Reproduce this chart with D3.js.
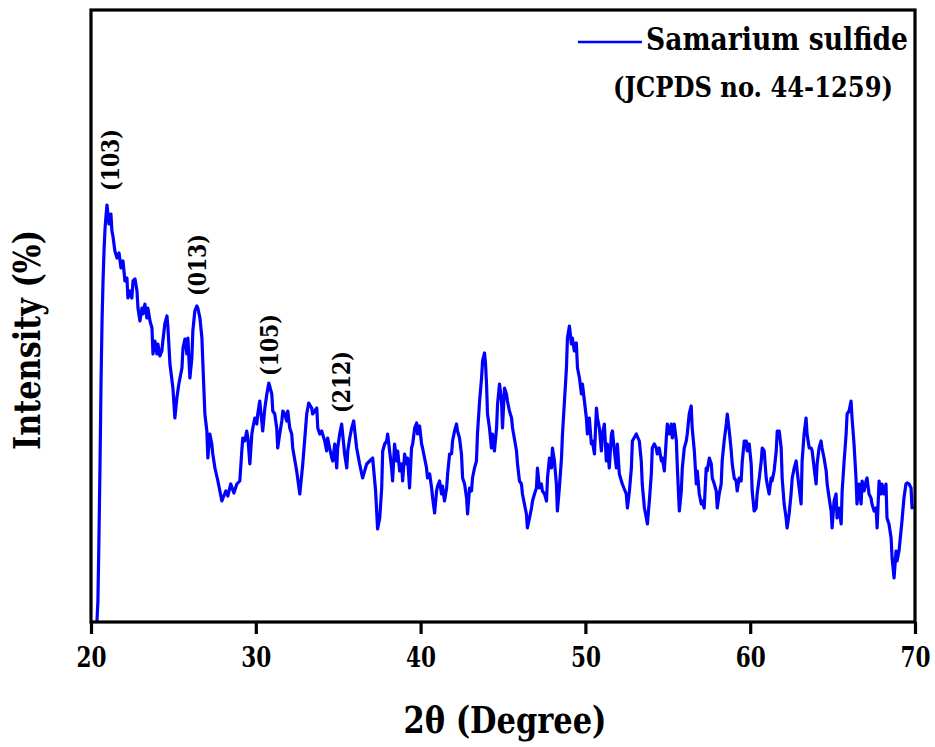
<!DOCTYPE html>
<html>
<head>
<meta charset="utf-8">
<script src="https://cdn.jsdelivr.net/npm/d3@7"></script>
<style>
  html, body { margin: 0; padding: 0; background: #fff; }
</style>
</head>
<body>
<svg id="chart" width="935" height="747"></svg>
<script>
// XRD pattern: [2theta (deg), intensity (a.u.)]
const xrdPattern = [
  [20.36, 0], [20.42, 21], [20.48, 81], [20.55, 161], [20.61, 241], [20.67, 301], [20.73, 341],
  [20.79, 371], [20.85, 393], [20.91, 406], [20.97, 417], [21.09, 398], [21.21, 408], [21.27, 391],
  [21.33, 386], [21.45, 371], [21.58, 364], [21.70, 369], [21.82, 354], [21.94, 361], [22.06, 341],
  [22.18, 344], [22.24, 324], [22.36, 331], [22.48, 324], [22.55, 341], [22.67, 343], [22.79, 331],
  [22.85, 314], [22.97, 301], [23.09, 314], [23.15, 308], [23.27, 318], [23.39, 304], [23.45, 314],
  [23.58, 301], [23.70, 294], [23.76, 268], [23.88, 281], [24.00, 268], [24.06, 278], [24.18, 266],
  [24.30, 271], [24.36, 281], [24.48, 298], [24.61, 306], [24.67, 294], [24.79, 258], [24.97, 234],
  [25.09, 204], [25.21, 224], [25.33, 238], [25.52, 254], [25.58, 274], [25.70, 283], [25.82, 268],
  [25.88, 284], [26.00, 244], [26.12, 264], [26.18, 291], [26.30, 311], [26.42, 316], [26.48, 314],
  [26.61, 304], [26.73, 284], [26.79, 258], [26.91, 208], [27.03, 191], [27.09, 164], [27.21, 188],
  [27.33, 178], [27.39, 168], [27.52, 154], [27.70, 141], [27.94, 121], [28.18, 131], [28.30, 126],
  [28.48, 138], [28.67, 129], [28.85, 138], [29.03, 141], [29.15, 171], [29.21, 184], [29.33, 181],
  [29.45, 191], [29.52, 184], [29.64, 158], [29.76, 188], [29.82, 194], [29.94, 204], [30.06, 198],
  [30.12, 208], [30.24, 221], [30.36, 201], [30.42, 191], [30.55, 214], [30.67, 228], [30.79, 239],
  [30.97, 228], [31.03, 211], [31.15, 208], [31.27, 194], [31.33, 174], [31.45, 188], [31.58, 201],
  [31.64, 211], [31.76, 208], [31.88, 201], [31.94, 211], [32.06, 194], [32.18, 188], [32.24, 174],
  [32.48, 151], [32.67, 128], [32.85, 158], [33.09, 208], [33.21, 219], [33.39, 214], [33.45, 208],
  [33.70, 214], [33.76, 194], [33.88, 188], [34.00, 191], [34.18, 181], [34.30, 171], [34.36, 184],
  [34.48, 174], [34.61, 164], [34.67, 161], [34.79, 178], [34.91, 154], [34.97, 174], [35.09, 188],
  [35.21, 198], [35.27, 188], [35.39, 168], [35.52, 154], [35.58, 171], [35.70, 184], [35.82, 194],
  [35.94, 201], [36.12, 174], [36.30, 158], [36.48, 144], [36.73, 158], [36.91, 161], [37.09, 164],
  [37.27, 131], [37.39, 93], [37.52, 104], [37.64, 134], [37.70, 171], [37.82, 178], [37.94, 181],
  [38.00, 188], [38.12, 171], [38.24, 154], [38.30, 141], [38.42, 178], [38.55, 161], [38.61, 171],
  [38.73, 151], [38.85, 158], [38.91, 141], [39.03, 168], [39.15, 158], [39.21, 164], [39.33, 134],
  [39.45, 174], [39.52, 178], [39.64, 194], [39.76, 199], [39.82, 188], [39.94, 196], [40.06, 178],
  [40.12, 174], [40.24, 164], [40.36, 154], [40.42, 144], [40.55, 148], [40.67, 134], [40.73, 124],
  [40.85, 109], [40.97, 131], [41.03, 136], [41.15, 141], [41.27, 128], [41.33, 136], [41.45, 121],
  [41.58, 134], [41.64, 148], [41.76, 168], [41.88, 168], [41.94, 181], [42.06, 191], [42.18, 198],
  [42.24, 191], [42.36, 184], [42.48, 168], [42.55, 144], [42.67, 138], [42.79, 124], [42.85, 108],
  [42.97, 134], [43.09, 131], [43.15, 144], [43.27, 154], [43.39, 161], [43.45, 188], [43.58, 221],
  [43.70, 244], [43.76, 261], [43.88, 269], [43.94, 258], [44.00, 238], [44.06, 208], [44.18, 194],
  [44.30, 174], [44.36, 188], [44.48, 171], [44.61, 194], [44.67, 218], [44.79, 238], [44.91, 221],
  [44.97, 194], [45.09, 234], [45.21, 228], [45.27, 221], [45.39, 211], [45.52, 204], [45.58, 194],
  [45.82, 171], [45.88, 158], [46.00, 141], [46.12, 138], [46.18, 128], [46.42, 108], [46.48, 94],
  [46.61, 104], [46.73, 114], [46.79, 121], [46.91, 128], [47.03, 134], [47.09, 154], [47.21, 134],
  [47.33, 138], [47.39, 131], [47.52, 128], [47.64, 121], [47.70, 144], [47.82, 164], [47.94, 154],
  [48.00, 174], [48.12, 161], [48.24, 138], [48.30, 111], [48.42, 134], [48.55, 164], [48.61, 188],
  [48.73, 221], [48.85, 254], [48.91, 284], [49.03, 296], [49.15, 278], [49.21, 284], [49.33, 271],
  [49.45, 279], [49.52, 254], [49.64, 244], [49.76, 228], [49.82, 238], [49.94, 221], [50.06, 204],
  [50.12, 188], [50.24, 204], [50.36, 178], [50.42, 181], [50.55, 168], [50.67, 214], [50.73, 204],
  [50.85, 194], [50.97, 171], [51.03, 188], [51.15, 198], [51.27, 161], [51.33, 178], [51.45, 154],
  [51.58, 188], [51.64, 191], [51.76, 171], [51.88, 154], [51.94, 178], [52.06, 148], [52.24, 138],
  [52.48, 128], [52.55, 114], [52.67, 131], [52.79, 154], [52.85, 181], [53.09, 188], [53.27, 181],
  [53.39, 161], [53.45, 138], [53.58, 114], [53.70, 104], [53.76, 98], [53.88, 121], [54.00, 148],
  [54.06, 174], [54.18, 178], [54.30, 174], [54.36, 168], [54.48, 174], [54.61, 161], [54.67, 164],
  [54.79, 151], [54.91, 184], [54.97, 198], [55.09, 188], [55.21, 198], [55.27, 184], [55.39, 198],
  [55.52, 181], [55.58, 154], [55.70, 111], [55.82, 131], [55.88, 154], [56.00, 174], [56.12, 181],
  [56.18, 188], [56.30, 208], [56.42, 216], [56.48, 194], [56.61, 171], [56.73, 138], [56.79, 151],
  [56.91, 128], [57.03, 118], [57.09, 121], [57.21, 114], [57.33, 154], [57.39, 151], [57.52, 164],
  [57.64, 158], [57.70, 144], [57.82, 138], [57.94, 131], [58.00, 114], [58.12, 128], [58.24, 138],
  [58.30, 161], [58.42, 181], [58.55, 198], [58.61, 208], [58.73, 191], [58.85, 171], [58.91, 158],
  [59.03, 144], [59.15, 141], [59.21, 131], [59.33, 144], [59.45, 141], [59.52, 161], [59.64, 181],
  [59.76, 181], [59.82, 171], [59.94, 178], [60.06, 158], [60.12, 131], [60.24, 111], [60.36, 114],
  [60.42, 128], [60.55, 144], [60.67, 161], [60.73, 174], [60.85, 171], [60.97, 144], [61.03, 138],
  [61.15, 128], [61.27, 144], [61.33, 141], [61.45, 151], [61.58, 171], [61.64, 191], [61.76, 191],
  [61.88, 174], [61.94, 144], [62.06, 118], [62.18, 104], [62.24, 94], [62.36, 108], [62.48, 128],
  [62.55, 144], [62.67, 154], [62.79, 161], [62.85, 151], [62.97, 134], [63.09, 118], [63.15, 161],
  [63.27, 188], [63.39, 204], [63.45, 188], [63.58, 174], [63.70, 174], [63.76, 171], [63.88, 154],
  [64.00, 138], [64.06, 158], [64.18, 174], [64.30, 181], [64.36, 174], [64.48, 164], [64.61, 151],
  [64.67, 138], [64.79, 124], [64.91, 111], [64.97, 94], [65.09, 121], [65.21, 128], [65.27, 104],
  [65.39, 114], [65.52, 98], [65.58, 131], [65.70, 161], [65.82, 188], [65.88, 208], [66.00, 211],
  [66.12, 221], [66.18, 204], [66.30, 178], [66.42, 144], [66.48, 118], [66.61, 138], [66.73, 118],
  [66.79, 141], [66.91, 131], [67.03, 141], [67.09, 144], [67.21, 128], [67.33, 124], [67.39, 118],
  [67.52, 111], [67.64, 114], [67.70, 94], [67.82, 141], [67.94, 128], [68.00, 138], [68.12, 128],
  [68.24, 138], [68.30, 104], [68.42, 98], [68.55, 84], [68.61, 64], [68.73, 44], [68.85, 71],
  [68.91, 61], [69.03, 71], [69.15, 91], [69.21, 101], [69.33, 124], [69.45, 138], [69.52, 139],
  [69.64, 138], [69.76, 134], [69.82, 114], [69.94, 116]
];

const xTicks = [20, 30, 40, 50, 60, 70];

// hkl labels: [label, 2theta, intensity at label centre]
const peakLabels = [
  ['(103)', 21.15, 462],
  ['(013)', 26.42, 357],
  ['(105)', 30.82, 277],
  ['(212)', 35.2, 240]
];

const seriesName = 'Samarium sulfide';
const refCard = '(JCPDS no. 44-1259)';

const serif = '"DejaVu Serif Condensed", "DejaVu Serif", serif';

const svg = d3.select('#chart')
  .attr('font-family', serif)
  .attr('font-weight', 'bold');
const margin = { top: 10, right: 20, bottom: 125, left: 91 };
const width = 935;
const height = 747;
const plotW = width - margin.left - margin.right;
const plotH = height - margin.top - margin.bottom;

const x = d3.scaleLinear().domain([20, 70]).range([margin.left, margin.left + plotW]);
const y = d3.scaleLinear().domain([0, 612]).range([margin.top + plotH, margin.top]);

svg.append('defs').append('clipPath').attr('id', 'plot-clip')
  .append('rect')
  .attr('x', margin.left).attr('y', margin.top)
  .attr('width', plotW).attr('height', plotH);

// pattern line
const line = d3.line().x((d) => x(d[0])).y((d) => y(d[1]));
svg.append('path')
  .datum(xrdPattern)
  .attr('clip-path', 'url(#plot-clip)')
  .attr('fill', 'none')
  .attr('stroke', '#0000ff')
  .attr('stroke-width', 3.2)
  .attr('stroke-linejoin', 'round')
  .attr('d', line);

// frame
svg.append('rect')
  .attr('x', margin.left).attr('y', margin.top)
  .attr('width', plotW).attr('height', plotH)
  .attr('fill', 'none')
  .attr('stroke', '#000')
  .attr('stroke-width', 3.2);

// x axis
const xAxis = svg.append('g')
  .attr('transform', `translate(0,${margin.top + plotH})`)
  .call(d3.axisBottom(x).tickValues(xTicks).tickSize(12).tickSizeOuter(0));
xAxis.select('.domain').remove();
xAxis.attr('font-family', serif).attr('font-weight', 'bold');
xAxis.selectAll('.tick line').attr('stroke', '#000').attr('stroke-width', 3.2);
xAxis.selectAll('.tick text')
  .attr('y', 45).attr('dy', null)
  .attr('font-size', 28)
  .attr('textLength', 30)
  .attr('lengthAdjust', 'spacingAndGlyphs');

// axis titles
svg.append('text')
  .attr('x', x(45) + 2).attr('y', 733)
  .attr('text-anchor', 'middle')
  .attr('font-size', 37)
  .attr('textLength', 203)
  .attr('lengthAdjust', 'spacingAndGlyphs')
  .text('2θ (Degree)');

svg.append('text')
  .attr('transform', 'translate(40,340) rotate(-90)')
  .attr('text-anchor', 'middle')
  .attr('font-size', 37)
  .attr('textLength', 220)
  .attr('lengthAdjust', 'spacingAndGlyphs')
  .text('Intensity (%)');

// peak labels
svg.selectAll('.peak')
  .data(peakLabels)
  .join('text')
  .attr('class', 'peak')
  .attr('transform', (d) => `translate(${x(d[1])},${y(d[2])}) rotate(-90)`)
  .attr('text-anchor', 'middle')
  .attr('dy', '0.35em')
  .attr('font-size', 25)
  .attr('textLength', 62)
  .attr('lengthAdjust', 'spacingAndGlyphs')
  .text((d) => d[0]);

// legend
const legend = svg.append('g');
legend.append('line')
  .attr('x1', 578).attr('x2', 642).attr('y1', 42).attr('y2', 42)
  .attr('stroke', '#0000ff').attr('stroke-width', 2.6);
legend.append('text')
  .attr('x', 646).attr('y', 50)
  .attr('font-size', 32)
  .attr('textLength', 262)
  .attr('lengthAdjust', 'spacingAndGlyphs')
  .text(seriesName);
legend.append('text')
  .attr('x', 613).attr('y', 97)
  .attr('font-size', 28)
  .attr('textLength', 280)
  .attr('lengthAdjust', 'spacingAndGlyphs')
  .text(refCard);
</script>
</body>
</html>
